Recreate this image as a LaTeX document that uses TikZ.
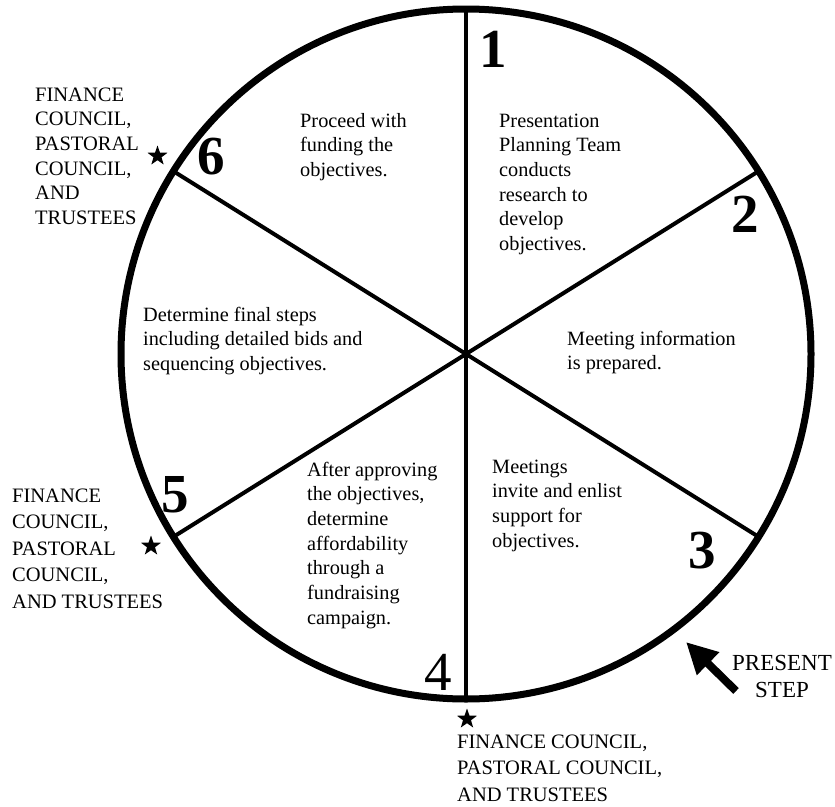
\documentclass[tikz,border=0pt]{standalone}
\usepackage{fontspec}
\setmainfont{Liberation Serif}
\usetikzlibrary{shapes.geometric,arrows.meta}
\newcommand\mystack[1]{\begin{tabular}[t]{@{}l@{}}#1\end{tabular}}
\newcommand\mystackc[1]{\begin{tabular}[t]{@{}c@{}}#1\end{tabular}}
\begin{document}
\begin{tikzpicture}[x=1pt,y=-1pt,
  wheel/.style={circle,draw,line width=7pt,minimum size=690pt,inner sep=0pt,outer sep=0pt},
  spoke/.style={line width=4pt},
  num/.style={font=\fontsize{55}{60}\selectfont\bfseries,inner sep=0pt},
  numlight/.style={font=\fontsize{55}{60}\selectfont,inner sep=0pt},
  body/.style={font=\fontsize{20.3}{24.7}\selectfont,inner sep=0pt,anchor=base west},
  side/.style={inner sep=0pt,anchor=base west},
  starmark/.style={star,star points=5,star point ratio=2.5,fill=black,draw=none,inner sep=0pt,minimum size=21pt},
  bigarrow/.style={line width=8pt,-{Triangle[length=31pt,width=30pt]}}
]
\useasboundingbox (0,0) rectangle (835,806);

\node[wheel] (wheel) at (466,354) {};
\draw[spoke] (wheel.90) -- (wheel.270);
\draw[spoke] (wheel.32) -- (wheel.212);
\draw[spoke] (wheel.148) -- (wheel.328);

\node[num] (n1) at (493,49.5) {1};
\node[num] (n2) at (745,214) {2};
\node[num] (n3) at (702,551) {3};
\node[numlight] (n4) at (438,672) {4};
\node[num] (n5) at (175,495) {5};
\node[num] (n6) at (211,157) {6};

\node[body] (t1) at (499,127) {\mystack{Presentation\\Planning Team\\conducts\\research to\\develop\\objectives.}};
\node[body] (t2) at (567,345) {\mystack{Meeting information\\is prepared.}};
\node[body] (t3) at (492,473) {\mystack{Meetings\\invite and enlist\\support for\\objectives.}};
\node[body] (t4) at (307,476) {\mystack{After approving\\the objectives,\\determine\\affordability\\through a\\fundraising\\campaign.}};
\node[body] (t5) at (143,321) {\mystack{Determine final steps\\including detailed bids and\\sequencing objectives.}};
\node[body] (t6) at (300,127) {\mystack{Proceed with\\funding the\\objectives.}};

\node[side,font=\fontsize{20.5}{24.7}\selectfont] (l6) at (35,101) {\mystack{FINANCE\\COUNCIL,\\PASTORAL\\COUNCIL,\\AND\\TRUSTEES}};
\node[side,font=\fontsize{20.5}{26.5}\selectfont] (l5) at (12,502) {\mystack{FINANCE\\COUNCIL,\\PASTORAL\\COUNCIL,\\AND TRUSTEES}};
\node[side,font=\fontsize{20.5}{26.5}\selectfont] (l4) at (457,748) {\mystack{FINANCE COUNCIL,\\PASTORAL COUNCIL,\\AND TRUSTEES}};

\node[starmark] (s6) at (157.5,156) {};
\node[starmark] (s5) at (151,546) {};
\node[starmark] (s4) at (467,719) {};

\node[inner sep=0pt,anchor=base,font=\fontsize{23}{27}\selectfont] (present) at (782,670) {\mystackc{PRESENT\\STEP}};
\coordinate (arrowtail) at (736,691);
\coordinate (arrowtip) at (686,642);
\draw[bigarrow] (arrowtail) -- (arrowtip);
\end{tikzpicture}
\end{document}
